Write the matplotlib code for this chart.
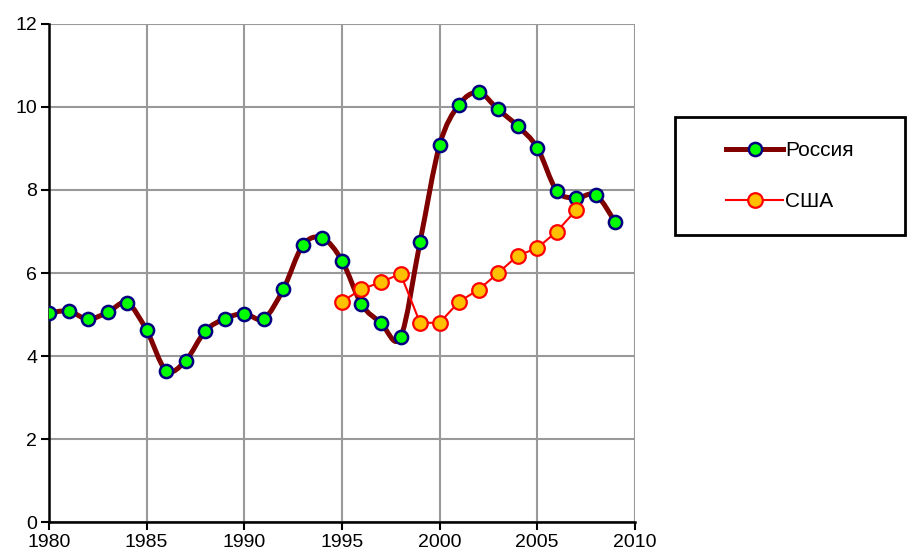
import numpy as np
import matplotlib
matplotlib.use('Agg')
import matplotlib.pyplot as plt
from matplotlib.path import Path
from matplotlib.patches import PathPatch, Rectangle
from matplotlib.lines import Line2D

plt.rcParams['font.family'] = ['Liberation Sans', 'DejaVu Sans']

# data
rus_years = list(range(1980, 2010))
rus_vals = [5.04, 5.08, 4.89, 5.05, 5.28, 4.62, 3.65, 3.89, 4.60, 4.90,
            5.02, 4.90, 5.61, 6.67, 6.84, 6.30, 5.25, 4.80, 4.45, 6.75,
            9.08, 10.06, 10.35, 9.94, 9.54, 9.02, 7.98, 7.81, 7.88, 7.22]
usa_years = list(range(1995, 2008))
usa_vals = [5.31, 5.61, 5.78, 5.98, 4.80, 4.80, 5.31, 5.60, 6.00, 6.42,
            6.60, 7.00, 7.52]

x_ticks = [1980, 1985, 1990, 1995, 2000, 2005, 2010]
y_ticks = [0, 2, 4, 6, 8, 10, 12]
labels = ['Россия', 'США']

rus_line = '#800000'
rus_face = '#00ff00'
rus_edge = '#000080'
usa_line = '#ff0000'
usa_face = '#ffc000'


def smooth_path(xs, ys):
    # Catmull-Rom style bezier, like a "smoothed line" in a spreadsheet
    pts = np.column_stack([xs, ys]).astype(float)
    n = len(pts)
    verts = [pts[0]]
    codes = [Path.MOVETO]
    for i in range(n - 1):
        p0 = pts[i - 1] if i > 0 else pts[i]
        p1 = pts[i]
        p2 = pts[i + 1]
        p3 = pts[i + 2] if i + 2 < n else pts[i + 1]
        c1 = p1 + (p2 - p0) / 6.0
        c2 = p2 - (p3 - p1) / 6.0
        verts += [c1, c2, p2]
        codes += [Path.CURVE4] * 3
    return Path(verts, codes)


fig = plt.figure(figsize=(9.07, 5.58), dpi=100)
ax = fig.add_axes([0.054, 0.0645, 0.646, 0.8925])

ax.add_patch(PathPatch(smooth_path(rus_years, rus_vals), facecolor='none',
                       edgecolor=rus_line, lw=3.6, capstyle='round',
                       joinstyle='round', zorder=3))
ax.plot(rus_years, rus_vals, ls='none', marker='o', ms=9.5, mfc=rus_face,
        mec=rus_edge, mew=1.8, zorder=4)

ax.plot(usa_years, usa_vals, color=usa_line, lw=1.5, marker='o', ms=10.5,
        mfc=usa_face, mec=usa_line, mew=1.6, zorder=5)

ax.set_xlim(1980, 2010)
ax.set_ylim(0, 12)
ax.set_xticks(x_ticks)
ax.set_yticks(y_ticks)
ax.grid(True, color='#999999', lw=1.5)
ax.set_axisbelow(True)
for s in ['top', 'right']:
    ax.spines[s].set_visible(False)
for s in ['left', 'bottom']:
    ax.spines[s].set_linewidth(1.8)
    ax.spines[s].set_color('black')
ax.tick_params(direction='out', length=5.5, width=1.5, labelsize=14, pad=3)

# legend frame
fig.patches.append(Rectangle((0.744, 0.579), 0.2536, 0.211,
                             transform=fig.transFigure, fill=False,
                             edgecolor='black', lw=2))
handles = [
    Line2D([], [], color=rus_line, lw=3.6, marker='o', ms=9.5, mfc=rus_face,
           mec=rus_edge, mew=1.8),
    Line2D([], [], color=usa_line, lw=1.5, marker='o', ms=10.5, mfc=usa_face,
           mec=usa_line, mew=1.6),
]
leg = fig.legend(handles, labels, loc='center',
                 bbox_to_anchor=(0.744 + 0.2536 / 2, 0.579 + 0.211 / 2),
                 fontsize=15, frameon=False,
                 handlelength=2.75, handletextpad=0.08, labelspacing=1.55)

fig.savefig('out.png', dpi=100)
